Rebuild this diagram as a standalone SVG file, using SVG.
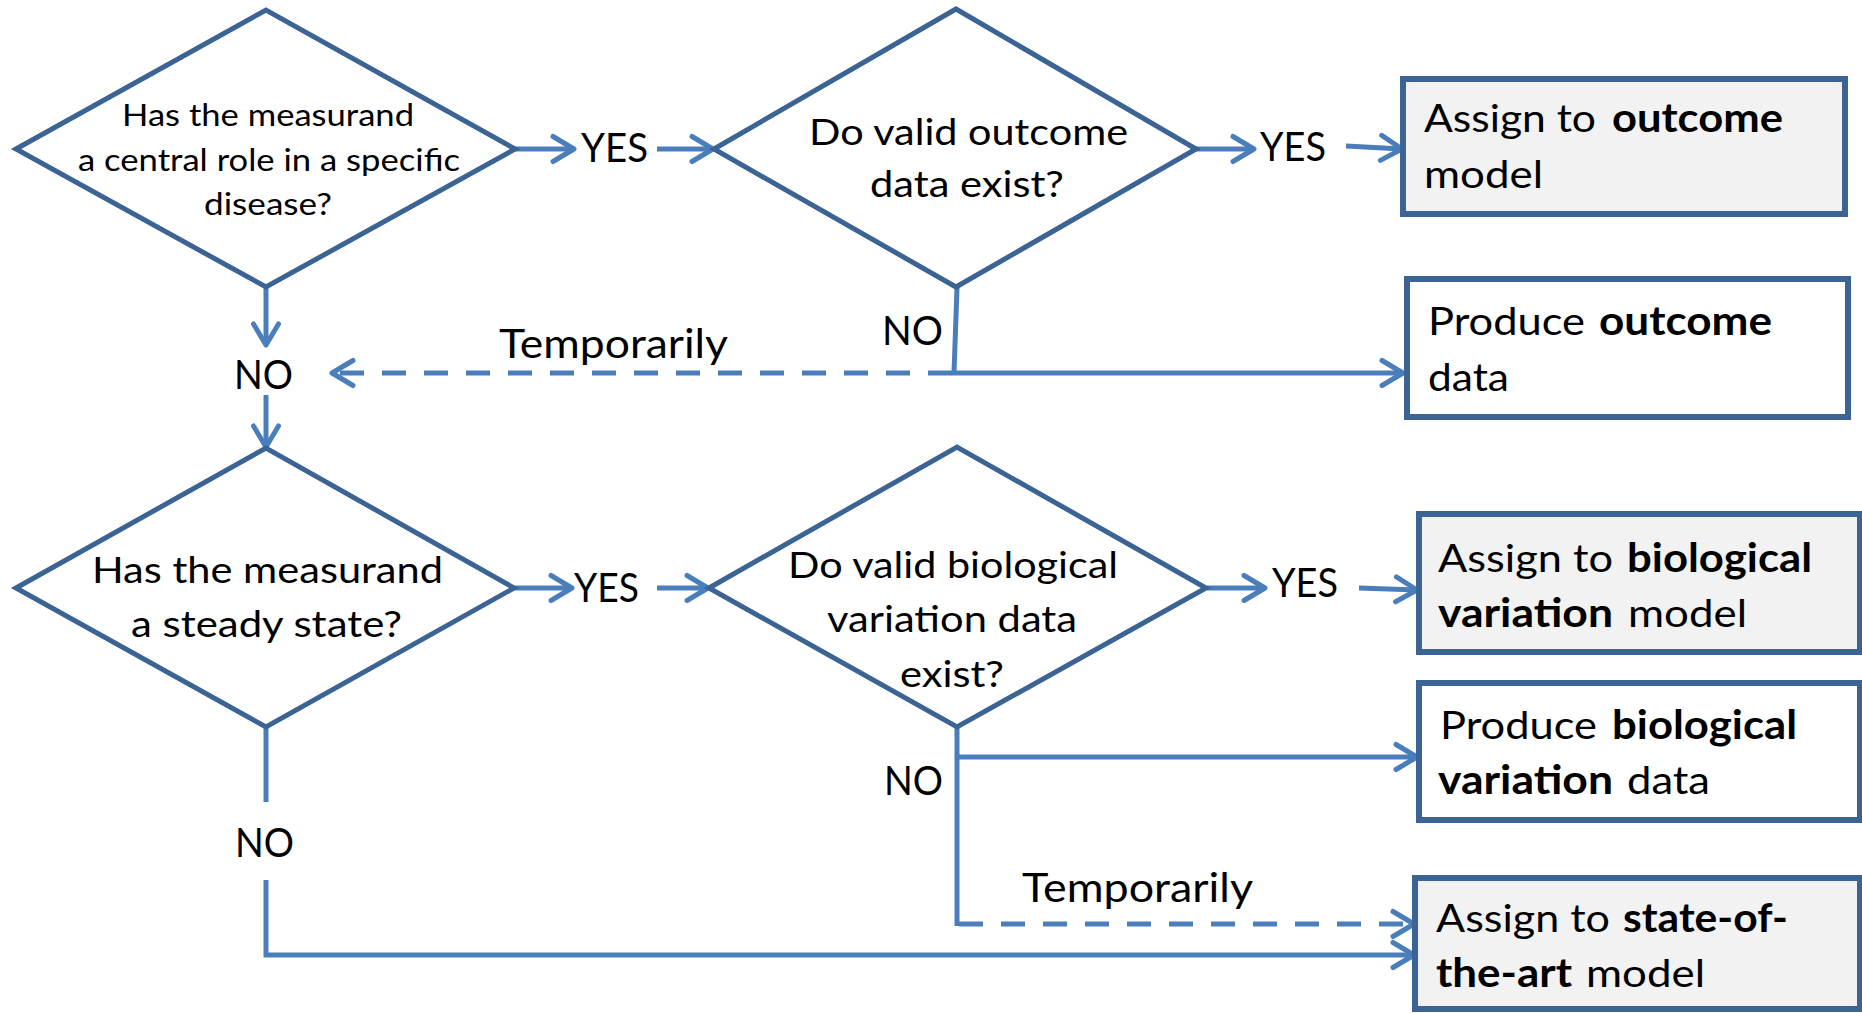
<svg xmlns="http://www.w3.org/2000/svg" width="1862" height="1013" viewBox="0 0 1862 1013">
<style>
text{font-family:Lato,"Open Sans","Liberation Sans",sans-serif;fill:#000}
.dia{fill:#fff;stroke:#3b6394;stroke-width:5;stroke-linejoin:miter}
.box{stroke:#3b6394;stroke-width:6}
.grey{fill:#f2f2f2}
.white{fill:#fff}
.con{fill:none;stroke:#4a7ebb;stroke-width:5}
.dash{stroke-dasharray:24 18}
.q1{font-size:30px}
.q{font-size:37px}
.lbl{font-size:40px}
.bt{font-size:39.5px}
.b{font-weight:bold}
</style>
<defs>
<marker id="arr" markerUnits="userSpaceOnUse" markerWidth="40" markerHeight="40" viewBox="-30 -20 40 40" refX="0" refY="0" orient="auto" overflow="visible">
<path d="M-21,-12.5 L0,0 L-21,12.5" fill="none" stroke="#4a7ebb" stroke-width="5" stroke-linecap="round" stroke-linejoin="round"/>
</marker>
</defs>

<g id="connectors">
<path class="con" d="M515,149 L574,149" marker-end="url(#arr)"/>
<path class="con" d="M657,149 L713,149" marker-end="url(#arr)"/>
<path class="con" d="M1196,149 L1254,149" marker-end="url(#arr)"/>
<path class="con" d="M1346,146 L1402,149" marker-end="url(#arr)"/>
<path class="con" d="M957,288 L954,373 L1403,373" marker-end="url(#arr)"/>
<path class="con dash" d="M952,373 L332,373" marker-end="url(#arr)"/>
<path class="con" d="M266,288 L266,345" marker-end="url(#arr)"/>
<path class="con" d="M266,395 L266,447" marker-end="url(#arr)"/>
<path class="con" d="M515,588 L572,588" marker-end="url(#arr)"/>
<path class="con" d="M657,588 L708,588" marker-end="url(#arr)"/>
<path class="con" d="M1207,588 L1265,588" marker-end="url(#arr)"/>
<path class="con" d="M1359,588 L1417,590" marker-end="url(#arr)"/>
<path class="con" d="M957,728 L957,926"/>
<path class="con" d="M957,757 L1417,757" marker-end="url(#arr)"/>
<path class="con dash" d="M959,924 L1414,924" marker-end="url(#arr)"/>
<path class="con" d="M266,728 L266,802"/>
<path class="con" d="M266,880 L266,955 L1414,955" marker-end="url(#arr)"/>
</g>

<g id="labels">
<text class="lbl" x="581" y="162" textLength="67" lengthAdjust="spacingAndGlyphs">YES</text>
<text class="lbl" x="1260" y="161" textLength="66" lengthAdjust="spacingAndGlyphs">YES</text>
<text class="lbl" x="574" y="602" textLength="65" lengthAdjust="spacingAndGlyphs">YES</text>
<text class="lbl" x="1272" y="597" textLength="66" lengthAdjust="spacingAndGlyphs">YES</text>
<text class="lbl" x="234" y="389" textLength="59" lengthAdjust="spacingAndGlyphs">NO</text>
<text class="lbl" x="882" y="345" textLength="61" lengthAdjust="spacingAndGlyphs">NO</text>
<text class="lbl" x="884" y="795" textLength="59" lengthAdjust="spacingAndGlyphs">NO</text>
<text class="lbl" x="235" y="857" textLength="59" lengthAdjust="spacingAndGlyphs">NO</text>
<text class="lbl" x="499" y="358" textLength="229" lengthAdjust="spacingAndGlyphs">Temporarily</text>
<text class="lbl" x="1022" y="902" textLength="231" lengthAdjust="spacingAndGlyphs">Temporarily</text>
</g>

<g id="d1">
<polygon class="dia" points="16,149 266,10 515,149 266,287"/>
<text class="q1" x="122" y="126" textLength="292" lengthAdjust="spacingAndGlyphs">Has the measurand</text>
<text class="q1" x="78" y="171" textLength="382" lengthAdjust="spacingAndGlyphs">a central role in a specific</text>
<text class="q1" x="204" y="215" textLength="128" lengthAdjust="spacingAndGlyphs">disease?</text>
</g>

<g id="d2">
<polygon class="dia" points="714,149 956,9 1196,149 956,287"/>
<text class="q" x="809" y="145" textLength="319" lengthAdjust="spacingAndGlyphs">Do valid outcome</text>
<text class="q" x="870" y="197" textLength="194" lengthAdjust="spacingAndGlyphs">data exist?</text>
</g>

<g id="d3">
<polygon class="dia" points="16,588 266,448 514,588 266,727"/>
<text class="q" x="92" y="583" textLength="351" lengthAdjust="spacingAndGlyphs">Has the measurand</text>
<text class="q" x="131" y="637" textLength="271" lengthAdjust="spacingAndGlyphs">a steady state?</text>
</g>

<g id="d4">
<polygon class="dia" points="709,588 957,447 1206,588 957,727"/>
<text class="q" x="788" y="578" textLength="330" lengthAdjust="spacingAndGlyphs">Do valid biological</text>
<text class="q" x="827" y="632" textLength="250" lengthAdjust="spacingAndGlyphs">variation data</text>
<text class="q" x="900" y="687" textLength="104" lengthAdjust="spacingAndGlyphs">exist?</text>
</g>

<g id="b1">
<rect class="box grey" x="1403" y="79" width="442" height="135"/>
<text class="bt" y="132"><tspan x="1424" textLength="172" lengthAdjust="spacingAndGlyphs">Assign to</tspan><tspan class="b" x="1612" textLength="171" lengthAdjust="spacingAndGlyphs">outcome</tspan></text>
<text class="bt" x="1424" y="188" textLength="119" lengthAdjust="spacingAndGlyphs">model</text>
</g>

<g id="b2">
<rect class="box white" x="1407" y="279" width="441" height="138"/>
<text class="bt" y="335"><tspan x="1428" textLength="157" lengthAdjust="spacingAndGlyphs">Produce</tspan><tspan class="b" x="1599" textLength="173" lengthAdjust="spacingAndGlyphs">outcome</tspan></text>
<text class="bt" x="1428" y="391" textLength="81" lengthAdjust="spacingAndGlyphs">data</text>
</g>

<g id="b3">
<rect class="box grey" x="1419" y="514" width="441" height="138"/>
<text class="bt" y="572"><tspan x="1438" textLength="175" lengthAdjust="spacingAndGlyphs">Assign to</tspan><tspan class="b" x="1627" textLength="185" lengthAdjust="spacingAndGlyphs">biological</tspan></text>
<text class="bt" y="627"><tspan class="b" x="1438" textLength="175" lengthAdjust="spacingAndGlyphs">variation</tspan><tspan x="1628" textLength="119" lengthAdjust="spacingAndGlyphs">model</tspan></text>
</g>

<g id="b4">
<rect class="box white" x="1419" y="683" width="441" height="137"/>
<text class="bt" y="739"><tspan x="1440" textLength="157" lengthAdjust="spacingAndGlyphs">Produce</tspan><tspan class="b" x="1612" textLength="185" lengthAdjust="spacingAndGlyphs">biological</tspan></text>
<text class="bt" y="794"><tspan class="b" x="1438" textLength="175" lengthAdjust="spacingAndGlyphs">variation</tspan><tspan x="1627" textLength="83" lengthAdjust="spacingAndGlyphs">data</tspan></text>
</g>

<g id="b5">
<rect class="box grey" x="1415" y="878" width="445" height="131"/>
<text class="bt" y="932"><tspan x="1436" textLength="174" lengthAdjust="spacingAndGlyphs">Assign to</tspan><tspan class="b" x="1623" textLength="165" lengthAdjust="spacingAndGlyphs">state-of-</tspan></text>
<text class="bt" y="987"><tspan class="b" x="1436" textLength="136" lengthAdjust="spacingAndGlyphs">the-art</tspan><tspan x="1586" textLength="119" lengthAdjust="spacingAndGlyphs">model</tspan></text>
</g>
</svg>
